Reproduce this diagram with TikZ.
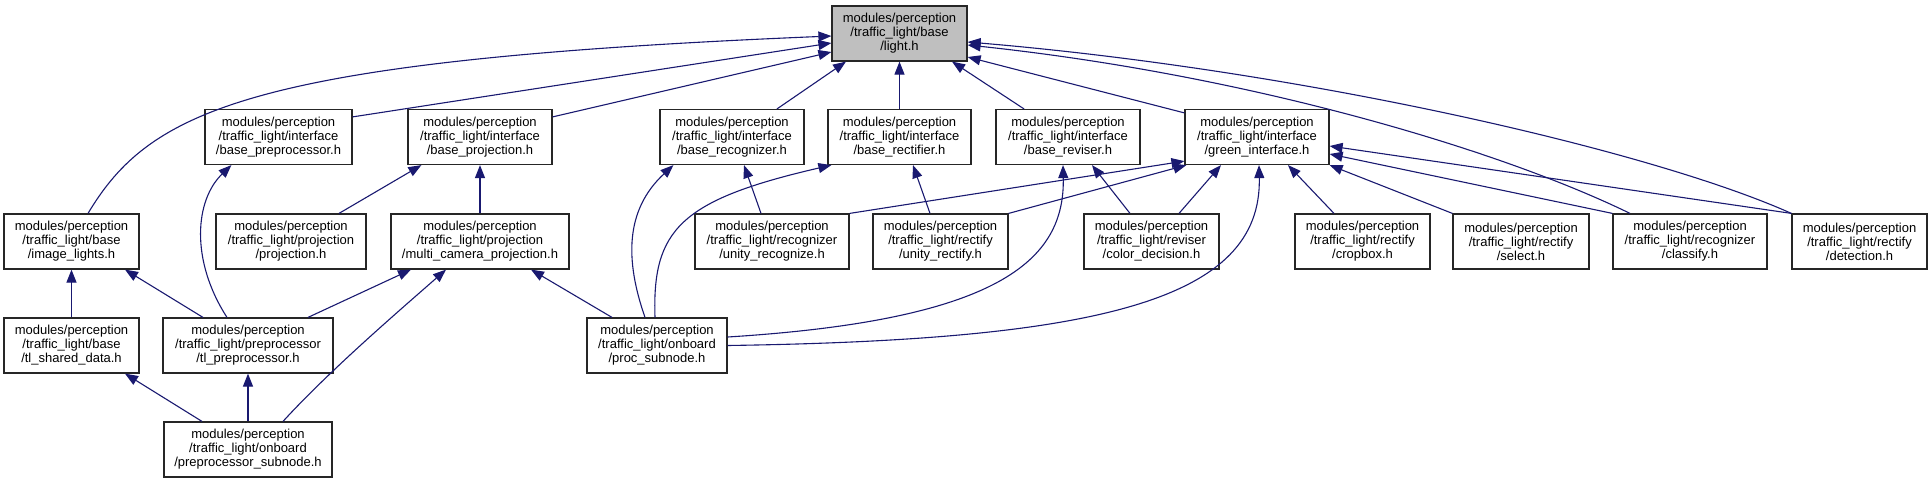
\documentclass[tikz,border=0pt]{standalone}
\usepackage{fontspec}
\newfontfamily\dxfont{Liberation Sans}
\usetikzlibrary{arrows.meta,calc}
\definecolor{edgeblue}{HTML}{191970}
\definecolor{curfill}{HTML}{BFBFBF}
\newcommand{\hlab}[3]{#1\\#2\\#3}

\begin{document}
\begin{tikzpicture}[x=0.5pt, y=-0.5pt,
  hfile/.style={draw=black!85, line width=0.6pt, fill=white, minimum width=#1*0.5pt,
    minimum height=27.5pt, inner sep=0pt, align=center, font=\dxfont\fontsize{6.5}{7}\selectfont},
  dep/.style={draw=edgeblue, line width=0.55pt, -{Triangle[length=6.5pt,width=5pt]}}]
  \useasboundingbox (0,0) rectangle (1932,483);
  % row 0
  \node[hfile=135, fill=curfill] (light) at (899.5,33.5) {\hlab{modules/perception}{/traffic\_light/base}{/light.h}};
  % row 1
  \node[hfile=147] (basePre) at (278.5,137) {\hlab{modules/perception}{/traffic\_light/interface}{/base\_preprocessor.h}};
  \node[hfile=144] (baseProj) at (480,137) {\hlab{modules/perception}{/traffic\_light/interface}{/base\_projection.h}};
  \node[hfile=144] (baseRecog) at (732,137) {\hlab{modules/perception}{/traffic\_light/interface}{/base\_recognizer.h}};
  \node[hfile=143] (baseRect) at (899.5,137) {\hlab{modules/perception}{/traffic\_light/interface}{/base\_rectifier.h}};
  \node[hfile=144] (baseRev) at (1068,137) {\hlab{modules/perception}{/traffic\_light/interface}{/base\_reviser.h}};
  \node[hfile=144] (greenIf) at (1257,137) {\hlab{modules/perception}{/traffic\_light/interface}{/green\_interface.h}};
  % row 2
  \node[hfile=135] (imgLights) at (71.5,241.5) {\hlab{modules/perception}{/traffic\_light/base}{/image\_lights.h}};
  \node[hfile=150] (projection) at (291,241.5) {\hlab{modules/perception}{/traffic\_light/projection}{/projection.h}};
  \node[hfile=178] (multiCam) at (480,241.5) {\hlab{modules/perception}{/traffic\_light/projection}{/multi\_camera\_projection.h}};
  \node[hfile=154] (unityRecog) at (772,241.5) {\hlab{modules/perception}{/traffic\_light/recognizer}{/unity\_recognize.h}};
  \node[hfile=135] (unityRect) at (940.5,241.5) {\hlab{modules/perception}{/traffic\_light/rectify}{/unity\_rectify.h}};
  \node[hfile=135] (colorDec) at (1151.5,241.5) {\hlab{modules/perception}{/traffic\_light/reviser}{/color\_decision.h}};
  \node[hfile=135] (cropbox) at (1362.5,241.5) {\hlab{modules/perception}{/traffic\_light/rectify}{/cropbox.h}};
  \node[hfile=136] (select) at (1521,241.5) {\hlab{modules/perception}{/traffic\_light/rectify}{/select.h}};
  \node[hfile=154] (classify) at (1690,241.5) {\hlab{modules/perception}{/traffic\_light/recognizer}{/classify.h}};
  \node[hfile=135] (detection) at (1859.5,241.5) {\hlab{modules/perception}{/traffic\_light/rectify}{/detection.h}};
  % row 3
  \node[hfile=135] (sharedData) at (71.5,345.5) {\hlab{modules/perception}{/traffic\_light/base}{/tl\_shared\_data.h}};
  \node[hfile=170] (tlPre) at (248,345.5) {\hlab{modules/perception}{/traffic\_light/preprocessor}{/tl\_preprocessor.h}};
  \node[hfile=140] (procSub) at (657,345.5) {\hlab{modules/perception}{/traffic\_light/onboard}{/proc\_subnode.h}};
  % row 4
  \node[hfile=168] (preSub) at (248,449.5) {\hlab{modules/perception}{/traffic\_light/onboard}{/preprocessor\_subnode.h}};

  % includes of light.h
  \draw[dep] ($(imgLights.north)+(16.5,0)$) .. controls (150,110) and (250,60) .. ($(light.west)+(0,2.5)$);
  \draw[dep] ($(basePre.north east)+(0,8)$) -- ($(light.west)+(0,9.5)$);
  \draw[dep] ($(baseProj.north east)+(0,8)$) -- ($(light.west)+(0,18.5)$);
  \draw[dep] ($(baseRecog.north)+(45,0)$) -- ($(light.south)+(-53.5,0)$);
  \draw[dep] (baseRect.north) -- (light.south);
  \draw[dep] ($(baseRev.north)+(-44,0)$) -- ($(light.south)+(52.5,0)$);
  \draw[dep] ($(greenIf.north west)+(0,4)$) -- ($(light.east)+(0,23.5)$);
  \draw[dep] (detection.north west) .. controls (1650,150) and (1300,70) .. ($(light.east)+(0,8.5)$);
  \draw[dep] ($(classify.north)+(-60,0)$) .. controls (1500,150) and (1250,75) .. ($(light.east)+(0,11.5)$);
  % includes of the interfaces
  \draw[dep] ($(tlPre.north)+(-21,0)$) .. controls (190,260) and (195,200) .. ($(basePre.south west)+(27,0)$);
  \draw[dep] ($(projection.north)+(48,0)$) -- ($(baseProj.south west)+(14,0)$);
  \draw[dep] (multiCam.north) -- (baseProj.south);
  \draw[dep] ($(unityRecog.north)+(-11,0)$) -- ($(baseRecog.south)+(12,0)$);
  \draw[dep] ($(procSub.north)+(-12,0)$) .. controls (625,260) and (625,210) .. ($(baseRecog.south west)+(14,0)$);
  \draw[dep] ($(unityRect.north)+(-10.5,0)$) -- ($(baseRect.south)+(13.5,0)$);
  \draw[dep] ($(procSub.north)+(-2,0)$) .. controls (652,230) and (680,200) .. ($(baseRect.south west)+(4,0)$);
  \draw[dep] ($(colorDec.north)+(-21.5,0)$) -- ($(baseRev.south)+(24,0)$);
  \draw[dep] ($(procSub.east)+(0,-8.5)$) .. controls (1000,320) and (1065,260) .. ($(baseRev.south)+(-5,0)$);
  % includes of green_interface.h
  \draw[dep] (unityRecog.north east) -- ($(greenIf.south west)+(0,-4)$);
  \draw[dep] (unityRect.north east) -- ($(greenIf.south west)+(2,0)$);
  \draw[dep] ($(colorDec.north)+(27.5,0)$) -- ($(greenIf.south)+(-36,0)$);
  \draw[dep] (procSub.east) .. controls (1100,340) and (1262,300) .. ($(greenIf.south)+(2,0)$);
  \draw[dep] ($(cropbox.north)+(-28.5,0)$) -- ($(greenIf.south)+(31,0)$);
  \draw[dep] (select.north west) -- (greenIf.south east);
  \draw[dep] (classify.north west) -- ($(greenIf.east)+(0,17)$);
  \draw[dep] (detection.north west) -- ($(greenIf.east)+(0,9)$);
  % lower rows
  \draw[dep] (sharedData.north) -- (imgLights.south);
  \draw[dep] ($(tlPre.north)+(-45,0)$) -- ($(imgLights.south)+(53.5,0)$);
  \draw[dep] ($(tlPre.north)+(60,0)$) -- ($(multiCam.south)+(-69,0)$);
  \draw[dep] ($(preSub.north)+(35,0)$) .. controls (330,370) and (400,310) .. ($(multiCam.south)+(-34,0)$);
  \draw[dep] ($(procSub.north)+(-45,0)$) -- ($(multiCam.south)+(51,0)$);
  \draw[dep] ($(preSub.north)+(-46,0)$) -- ($(sharedData.south)+(53.5,0)$);
  \draw[dep] (preSub.north) -- (tlPre.south);
\end{tikzpicture}
\end{document}
